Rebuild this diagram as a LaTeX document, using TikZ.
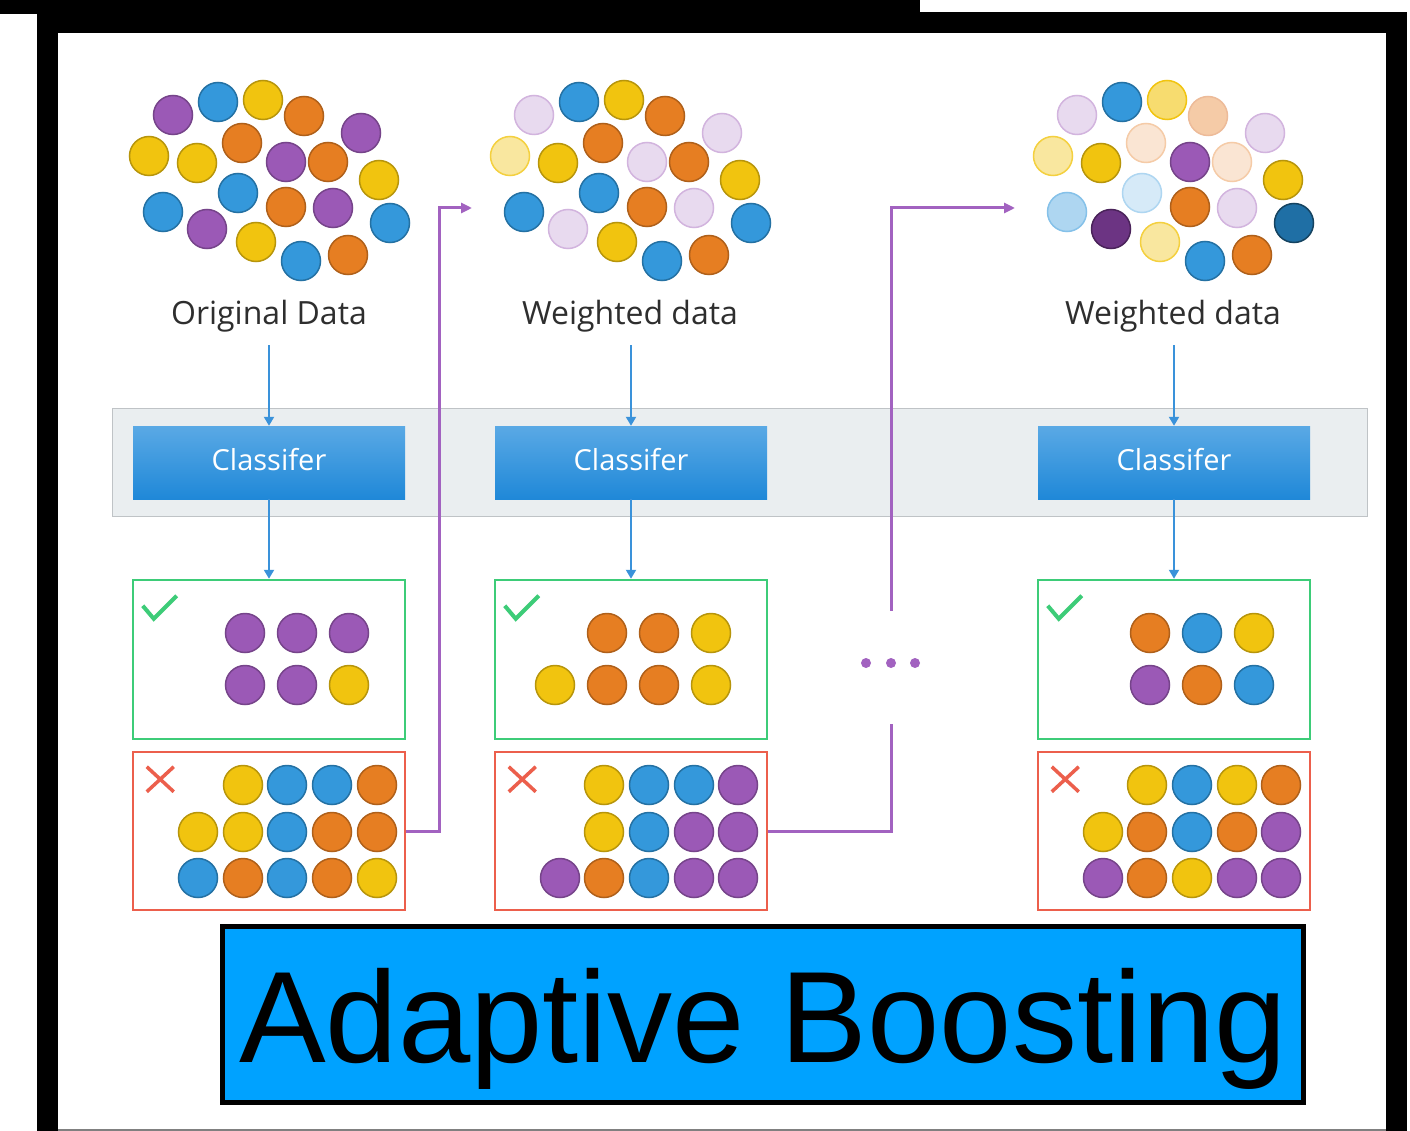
\documentclass[tikz,border=0pt]{standalone}
\usepackage{fontspec}
\setmainfont{Open Sans}
\newfontfamily\titlefont{Liberation Sans}
\usetikzlibrary{arrows.meta,shapes,calc}
% ball colours (fill / border)
\definecolor{blu}{HTML}{3498DB}  \definecolor{blud}{HTML}{2471A3}
\definecolor{yel}{HTML}{F1C40F}  \definecolor{yeld}{HTML}{B7950B}
\definecolor{org}{HTML}{E67E22}  \definecolor{orgd}{HTML}{AF601A}
\definecolor{pur}{HTML}{9B59B6}  \definecolor{purd}{HTML}{76448A}
\definecolor{lpur}{HTML}{E8DAEF} \definecolor{lpurd}{HTML}{D2B4DE}
\definecolor{lyel}{HTML}{F9E79F} \definecolor{lyeld}{HTML}{F4D03F}
\definecolor{myel}{HTML}{F7DC6F} \definecolor{myeld}{HTML}{F1C40F}
\definecolor{lorg}{HTML}{F5CBA7} \definecolor{lorgd}{HTML}{EDBB99}
\definecolor{vorg}{HTML}{FAE5D3} \definecolor{vorgd}{HTML}{F5CBA7}
\definecolor{vblu}{HTML}{D6EAF8} \definecolor{vblud}{HTML}{AED6F1}
\definecolor{lblu}{HTML}{AED6F1} \definecolor{lblud}{HTML}{85C1E9}
\definecolor{dpur}{HTML}{6C3483} \definecolor{dpurd}{HTML}{4A235A}
\definecolor{dblu}{HTML}{1F6FA5} \definecolor{dblud}{HTML}{154360}
% other colours
\definecolor{bandgray}{HTML}{EAEEF0}
\definecolor{bandline}{HTML}{BFC3C6}
\definecolor{clstop}{HTML}{5AA9E5}
\definecolor{clsbot}{HTML}{1F88D8}
\definecolor{flowblue}{HTML}{3A92DA}
\definecolor{okgreen}{HTML}{3DCC78}
\definecolor{badred}{HTML}{EC5F4C}
\definecolor{wpurple}{HTML}{A262C0}
\definecolor{txtgray}{HTML}{2E2E2E}
\definecolor{titleblue}{HTML}{00A2FF}
\tikzstyle{band}=[fill=bandgray, draw=bandline, line width=1pt]
\tikzstyle{clsbox}=[rectangle, minimum width=272pt, minimum height=73pt, inner sep=0pt,
  top color=clstop, bottom color=clsbot, text=white, text height=22pt, text depth=6pt,
  font=\fontsize{29}{34}\selectfont]
\tikzstyle{okbox}=[rectangle, draw=okgreen, line width=2.5pt, minimum width=272pt, minimum height=159pt]
\tikzstyle{badbox}=[rectangle, draw=badred, line width=2.5pt, minimum width=272pt, minimum height=158pt]
\tikzstyle{lbl}=[text=txtgray, anchor=base, font=\fontsize{32}{38}\selectfont]
\tikzstyle{flow}=[draw, line width=2pt, color=flowblue, -{Triangle[width=10pt,length=9pt]}]
\tikzstyle{weightline}=[draw, line width=3pt, color=wpurple]
\tikzstyle{tick}=[okgreen, line width=4pt]
\tikzstyle{cross}=[badred, line width=3.5pt]
\tikzstyle{dot}=[circle, fill=wpurple, minimum size=10pt, inner sep=0pt]
\tikzstyle{titlebox}=[rectangle, draw=black, line width=5pt, fill=titleblue, minimum width=1081pt,
  minimum height=176pt, text height=100pt, text depth=5pt, font=\titlefont\fontsize{130}{140}\selectfont]
\tikzset{ball/.style={circle, minimum size=39pt, inner sep=0pt, line width=1.5pt, fill=#1, draw=#1d}}

\begin{document}
\begin{tikzpicture}[x=1pt, y=-1pt]
    % page and black frame
    \useasboundingbox (0,0) rectangle (1410,1131);
    \fill[white] (0,0) rectangle (1410,1131);
    \fill[black] (0,0) rectangle (920,14);
    \fill[black] (37,0) rectangle (58,1131);
    \fill[black] (37,12) rectangle (1407,33);
    \fill[black] (1386,12) rectangle (1407,1131);
    \draw[gray, line width=1.5pt] (58,1130) -- (1386,1130);
    % gray band behind the classifiers
    \path[band] (112,408) rectangle (1367,516);

    % the three data clouds (original, weighted, weighted)
    \foreach \dx/\y/\ca/\cb/\cc [count=\i] in {-96/115/pur/lpur/lpur, -51/102/blu/blu/blu,
        -6/100/yel/yel/myel, 35/116/org/org/lorg, 92/133/pur/lpur/lpur, -120/156/yel/lyel/lyel,
        -72/163/yel/yel/yel, -27/143/org/org/vorg, 17/162/pur/lpur/pur, 59/162/org/org/vorg,
        110/180/yel/yel/yel, -31/193/blu/blu/vblu, -106/212/blu/blu/lblu, -62/229/pur/lpur/dpur,
        17/207/org/org/org, 64/208/pur/lpur/lpur, 121/223/blu/blu/dblu, -13/242/yel/yel/lyel,
        32/261/blu/blu/blu, 79/255/org/org/org}
    {
        \node[ball/.expanded=\ca] (ca\i) at (269+\dx,\y) {};
        \node[ball/.expanded=\cb] (cb\i) at (630+\dx,\y) {};
        \node[ball/.expanded=\cc] (cc\i) at (1173+\dx,\y) {};
    }

    % labels and classifiers
    \foreach \x/\name/\txt in {269/lab1/Original Data, 630/lab2/Weighted data, 1173/lab3/Weighted data}
        \node[lbl] (\name) at (\x,325) {\txt};
    \foreach \pos/\name in {{(269,462.5)/cls1}, {(631,462.5)/cls2}, {(1174,462.5)/cls3}}
        \node[clsbox] (\name) at \pos {Classifer};

    % correct / wrong boxes
    \foreach \x/\n in {269/1, 631/2, 1174/3}
    {
        \node[okbox] (ok\n) at (\x,659.5) {};
        \node[badbox] (bad\n) at (\x,831) {};
        \draw[tick] ([shift={(11,27)}]ok\n.north west) -- ++(11,13) -- ++(23,-23);
        \draw[cross] ([shift={(15,16)}]bad\n.north west) -- ++(27,25);
        \draw[cross] ([shift={(15,41)}]bad\n.north west) -- ++(27,-25);
        \path[flow, shorten <=9pt] (cls\n.north |- lab\n.south) -- (cls\n);
        \path[flow] (cls\n) -- (ok\n);
    }

    % balls in the boxes
    \foreach \x/\y/\c [count=\i] in {245/633/pur, 297/633/pur, 349/633/pur, 245/685/pur, 297/685/pur,
        349/685/yel, 607/633/org, 659/633/org, 711/633/yel, 555/685/yel, 607/685/org, 659/685/org,
        711/685/yel, 1150/633/org, 1202/633/blu, 1254/633/yel, 1150/685/pur, 1202/685/org, 1254/685/blu}
        \node[ball/.expanded=\c] (g\i) at (\x,\y) {};
    \foreach \x/\y/\c [count=\i] in {243/785/yel, 287/785/blu, 332/785/blu, 377/785/org,
        198/832/yel, 243/832/yel, 287/832/blu, 332/832/org, 377/832/org,
        198/878/blu, 243/878/org, 287/878/blu, 332/878/org, 377/878/yel,
        604/785/yel, 649/785/blu, 694/785/blu, 738/785/pur,
        604/832/yel, 649/832/blu, 694/832/pur, 738/832/pur,
        560/878/pur, 604/878/org, 649/878/blu, 694/878/pur, 738/878/pur,
        1147/785/yel, 1192/785/blu, 1237/785/yel, 1281/785/org,
        1103/832/yel, 1147/832/org, 1192/832/blu, 1237/832/org, 1281/832/pur,
        1103/878/pur, 1147/878/org, 1192/878/yel, 1237/878/pur, 1281/878/pur}
        \node[ball/.expanded=\c] (r\i) at (\x,\y) {};

    % weights passed on to the next round
    \coordinate (in2) at (472,208);
    \coordinate (in3) at (1015,208);
    \foreach \x/\name in {866/d1, 891/d2, 915/d3}
        \node[dot] (\name) at (\x,663) {};
    \path[weightline, -{Triangle[width=10pt,length=11pt]}] (bad1.east) -- ++(33,0) |- (in2);
    \path[weightline, shorten >=56pt] (bad2.east) -| (d2);
    \path[weightline, shorten <=47pt, -{Triangle[width=10pt,length=11pt]}] (d2) |- (in3);

    % title
    \node[titlebox] (title) at (763,1014.5) {Adaptive Boosting};
\end{tikzpicture}
\end{document}
